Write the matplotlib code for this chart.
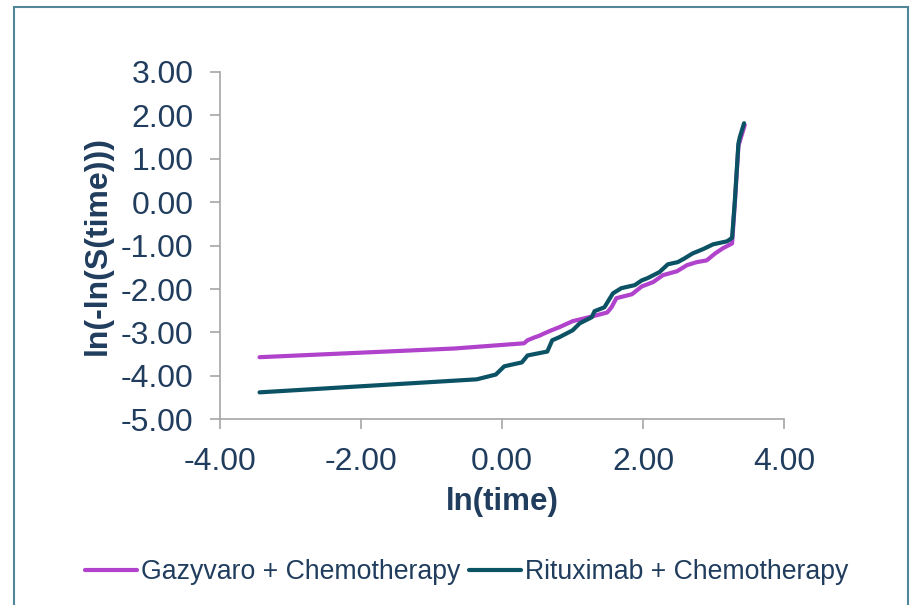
import matplotlib
matplotlib.use("Agg")
import matplotlib.pyplot as plt
from matplotlib.patches import Rectangle

plt.rcParams['font.family'] = ['Liberation Sans', 'DejaVu Sans']

# values: ln(time) vs ln(-ln(S(time)))
gazy_x = [-3.44, -0.68, 0.31, 0.36, 0.45, 0.52, 0.6, 0.7, 0.81, 1.0, 1.28, 1.49,
          1.55, 1.62, 1.84, 1.98, 2.14, 2.28, 2.48, 2.62, 2.76, 2.9, 3.02, 3.13,
          3.26, 3.3, 3.35, 3.44]
gazy_y = [-3.57, -3.37, -3.25, -3.18, -3.12, -3.08, -3.02, -2.95, -2.88, -2.74, -2.63, -2.54,
          -2.42, -2.21, -2.12, -1.94, -1.84, -1.68, -1.59, -1.45, -1.38, -1.34, -1.18, -1.06,
          -0.95, 0.0, 1.3, 1.78]

ritux_x = [-3.44, -0.36, -0.09, 0.03, 0.28, 0.36, 0.64, 0.71, 0.81, 1.0, 1.1, 1.27,
           1.31, 1.45, 1.57, 1.69, 1.88, 1.98, 2.06, 2.23, 2.35, 2.49, 2.59, 2.7,
           2.85, 2.99, 3.19, 3.26, 3.3, 3.35, 3.37, 3.43]
ritux_y = [-4.38, -4.08, -3.97, -3.78, -3.69, -3.53, -3.44, -3.18, -3.11, -2.95, -2.79, -2.65,
           -2.51, -2.42, -2.1, -1.98, -1.91, -1.8, -1.75, -1.61, -1.43, -1.38, -1.29, -1.18,
           -1.08, -0.97, -0.9, -0.82, 0.05, 1.35, 1.5, 1.82]

x_ticks = [-4, -2, 0, 2, 4]
y_ticks = [3, 2, 1, 0, -1, -2, -3, -4, -5]

text_col = '#213d5e'
axis_col = '#a6a6a6'

fig = plt.figure(figsize=(9.13, 6.05), dpi=100)
ax = fig.add_axes([0.241, 0.307, 0.618, 0.574])

ax.plot(gazy_x, gazy_y, color='#b042cc', lw=3.0, label='Gazyvaro + Chemotherapy',
        solid_joinstyle='round', solid_capstyle='round')
ax.plot(ritux_x, ritux_y, color='#0b5265', lw=3.0, label='Rituximab + Chemotherapy',
        solid_joinstyle='round', solid_capstyle='round')

ax.set_xlim(-4, 4)
ax.set_ylim(-5, 3)
ax.set_xticks(x_ticks)
ax.set_yticks(y_ticks)
ax.set_xticklabels(["{:.2f}".format(v) for v in x_ticks])
ax.set_yticklabels(["{:.2f}".format(v) for v in y_ticks])

for s in ['top', 'right']:
    ax.spines[s].set_visible(False)
for s in ['left', 'bottom']:
    ax.spines[s].set_color(axis_col)
    ax.spines[s].set_linewidth(1.2)
ax.tick_params(axis='both', direction='out', length=7, width=1.2, color=axis_col,
               labelcolor=text_col, labelsize=23)
ax.tick_params(axis='x', pad=13)
ax.tick_params(axis='y', pad=12)

ax.set_xlabel("ln(time)", fontsize=22.5, fontweight='bold', color=text_col, labelpad=7)
ax.set_ylabel("ln(-ln(S(time)))", fontsize=23, fontweight='bold', color=text_col, labelpad=6)

fig.legend(loc='center', bbox_to_anchor=(0.511, 0.054), ncol=2, frameon=False,
           fontsize=19.2, labelcolor=text_col, handlelength=1.95, handletextpad=0.15,
           columnspacing=0.35)

fig.patches.append(Rectangle((14 / 913, -0.01), 894 / 913, 1 - 7 / 605 + 0.01,
                             transform=fig.transFigure, fill=False,
                             edgecolor='#4f8798', lw=1.5))

fig.savefig("out.png", dpi=100)
